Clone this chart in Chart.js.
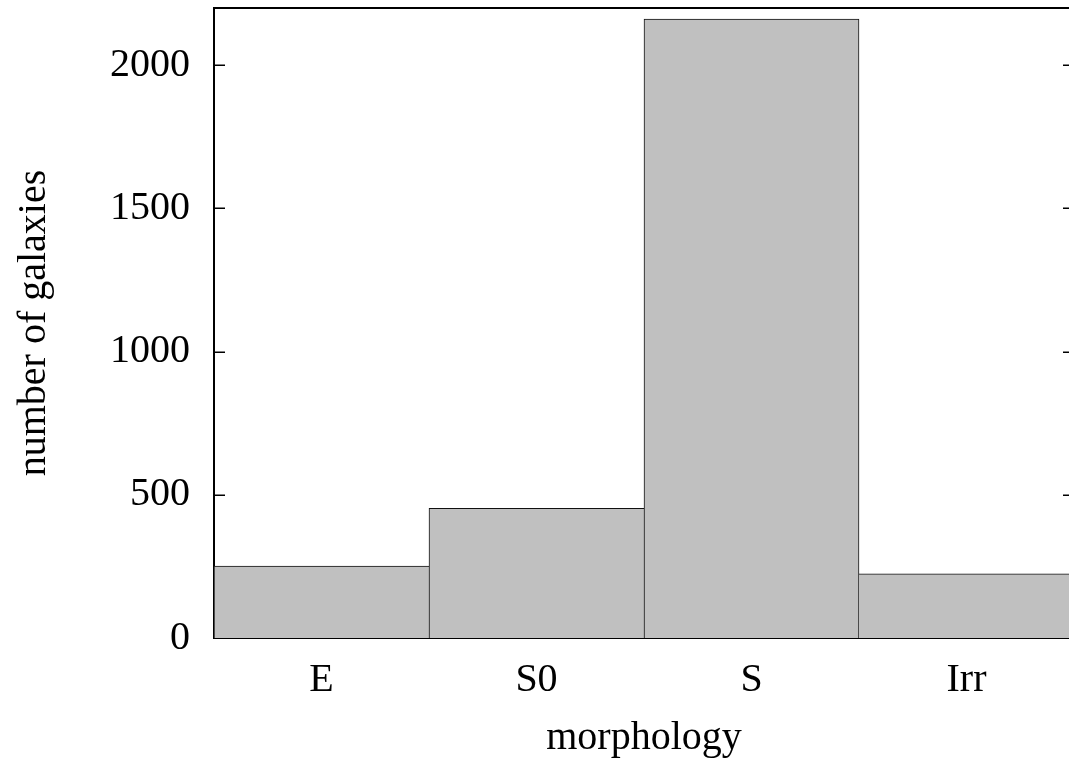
<!DOCTYPE html>
<html>
<head>
<meta charset="utf-8">
<script src="https://cdn.jsdelivr.net/npm/chart.js@4.4.1/dist/chart.umd.min.js"></script>
<style>
html, body { margin: 0; padding: 0; overflow: hidden; background: #fff; }
#wrap { width: 1090px; height: 762px; position: relative; }
</style>
</head>
<body>
<div id="wrap"><canvas id="c"></canvas></div>
<script>
const categories = ['E', 'S0', 'S', 'Irr'];
const counts = [251, 453, 2161, 224];
const yTicks = [0, 500, 1000, 1500, 2000];
const yMax = 2200;
const xTitle = 'morphology';
const yTitle = 'number of galaxies';

const FONT = 'Liberation Serif, Times New Roman, serif';
const LEFT = 214, BOTTOM_H = 124, TOP = 8, RIGHT_PAD = 16;

const framePlugin = {
  id: 'frame',
  afterDraw(chart) {
    const ctx = chart.ctx, a = chart.chartArea, ys = chart.scales.y;
    ctx.save();
    ctx.strokeStyle = '#000';
    ctx.lineWidth = 1.5;
    yTicks.forEach(v => {
      if (v === 0) return;
      const py = Math.round(ys.getPixelForValue(v)) + 0.25;
      ctx.beginPath();
      ctx.moveTo(a.left, py); ctx.lineTo(a.left + 11, py);
      ctx.moveTo(a.right, py); ctx.lineTo(a.right - 11, py);
      ctx.stroke();
    });
    ctx.lineWidth = 2;
    ctx.beginPath();
    ctx.moveTo(a.left - 1, a.top); ctx.lineTo(a.right + 1, a.top);
    ctx.moveTo(a.right, a.top); ctx.lineTo(a.right, a.bottom);
    ctx.stroke();
    ctx.restore();
  }
};

new Chart(document.getElementById('c'), {
  type: 'bar',
  data: {
    labels: categories,
    datasets: [{
      data: counts,
      backgroundColor: '#c0c0c0',
      borderColor: '#111',
      borderSkipped: 'start',
      borderWidth: (ctx) => {
        const i = ctx.dataIndex, v = counts;
        const left = (i === 0 || v[i] >= v[i - 1]) ? 1 : 0;
        const right = (i === v.length - 1 || v[i] > v[i + 1]) ? 1 : 0;
        return { top: 1, left: left, right: right, bottom: 0 };
      },
      categoryPercentage: 1.0,
      barPercentage: 1.0
    }]
  },
  options: {
    responsive: true,
    maintainAspectRatio: false,
    animation: false,
    layout: { padding: { top: TOP, right: RIGHT_PAD, left: 0, bottom: 0 } },
    plugins: { legend: { display: false }, tooltip: { enabled: false } },
    scales: {
      x: {
        type: 'category',
        grid: { display: false, drawTicks: false },
        border: { display: true, color: '#000', width: 2 },
        ticks: { color: '#000', font: { family: FONT, size: 40 }, padding: 18 },
        title: { display: true, text: xTitle, color: '#000', font: { family: FONT, size: 40 }, padding: { top: 2, bottom: 0 } },
        afterFit(s) { s.height = BOTTOM_H; s.paddingLeft = 0; s.paddingRight = 0; }
      },
      y: {
        type: 'linear',
        min: 0,
        max: yMax,
        afterBuildTicks(s) { s.ticks = yTicks.map(v => ({ value: v })); },
        grid: { display: false, drawTicks: false },
        border: { display: true, color: '#000', width: 2 },
        ticks: { color: '#000', font: { family: FONT, size: 40 }, padding: 24, callback: (v) => String(v) },
        title: { display: true, text: yTitle, color: '#000', font: { family: FONT, size: 40 }, padding: { top: 10, bottom: 0 } },
        afterFit(s) { s.width = LEFT; s.paddingTop = 0; s.paddingBottom = 0; }
      }
    }
  },
  plugins: [framePlugin]
});
</script>
</body>
</html>
